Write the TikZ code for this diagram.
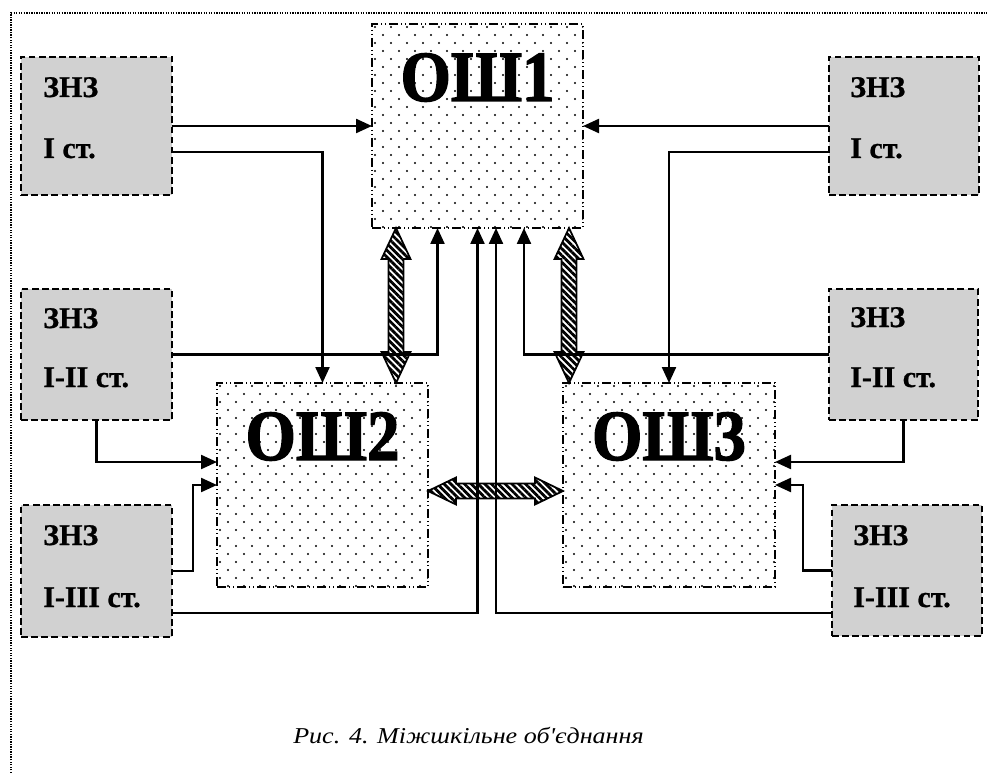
\documentclass[tikz,border=0pt]{standalone}
\usepackage{fontspec}
\setmainfont{Liberation Serif}
\newfontfamily\capfont{Liberation Serif}[FakeStretch=1.15]
\newfontfamily\oshfont{Liberation Serif Bold}[FakeStretch=0.9,FakeBold=1.8]
\newfontfamily\znzfont{Liberation Serif Bold}[FakeBold=0.8]
\usetikzlibrary{arrows.meta,calc,fit,patterns.meta}
\definecolor{znzgray}{RGB}{209,209,209}
\tikzset{
  znz/.style={draw, fill=znzgray, line width=1.3pt, dash pattern=on 5pt off 2.6pt, inner sep=0pt, outer sep=0pt},
  osh/.style={draw, line width=1.2pt, dash pattern=on 7pt off 2pt on 1pt off 2pt on 1pt off 2pt, inner sep=0pt, outer sep=0pt},
  znztext/.style={anchor=base west, inner sep=0pt, font=\znzfont\fontsize{22.5}{26}\selectfont},
  oshtext/.style={anchor=base, inner sep=0pt, font=\oshfont\fontsize{54}{60}\selectfont},
  conn/.style={line width=1.7pt, -{Triangle[length=12pt,width=10.5pt]}},
  fatarr/.style={fill=white, postaction={pattern={Lines[angle=-45,distance=3.6pt,line width=2.1pt]}}, postaction={draw,line width=1.3pt}},
  frame/.style={line width=1.4pt, dash pattern=on 1pt off 0.9pt},
}
\newcommand\fatV[2]{\path[fatarr] (#1) -- ($(#1)+(14.5,31)$) -- ($(#1)+(7.5,31)$) -- ($(#2)+(7.5,-31)$) -- ($(#2)+(14.5,-31)$) -- (#2) -- ($(#2)+(-14.5,-31)$) -- ($(#2)+(-7.5,-31)$) -- ($(#1)+(-7.5,31)$) -- ($(#1)+(-14.5,31)$) -- cycle;}
\newcommand\fatH[2]{\path[fatarr] (#1) -- ($(#1)+(28,-13.5)$) -- ($(#1)+(28,-7.5)$) -- ($(#2)+(-28,-7.5)$) -- ($(#2)+(-28,-13.5)$) -- (#2) -- ($(#2)+(-28,13.5)$) -- ($(#2)+(-28,7.5)$) -- ($(#1)+(28,7.5)$) -- ($(#1)+(28,13.5)$) -- cycle;}
\begin{document}
\begin{tikzpicture}[x=0.75pt,y=-0.75pt]
\useasboundingbox (0,0) rectangle (987,773);
% frame
\coordinate (fr1) at (11,773);
\coordinate (fr2) at (11,13);
\coordinate (fr3) at (987,13);
\draw[frame] (fr1) -- (fr2) -- (fr3);
% OSh boxes
\node[osh, fit={(372,24) (583,228)}] (osh1) {};
\node[osh, fit={(217,383) (428,587)}] (osh2) {};
\node[osh, fit={(563,383) (775,587)}] (osh3) {};
\foreach \b in {osh1,osh2,osh3}{
  \begin{scope}
    \clip (\b.north west) rectangle (\b.south east);
    \foreach \i in {0,...,26}{
      \foreach \j in {0,...,13}{
        \fill ($(\b.north west)+({3+16*\j+8*mod(\i,2)},{3+8*\i})$) circle (0.85pt);
      }
    }
  \end{scope}
}
\node[oshtext] (o1t) at ($(osh1.north)+(0,77)$) {ОШ1};
\node[oshtext] (o2t) at ($(osh2.north)+(0,77)$) {ОШ2};
\node[oshtext] (o3t) at ($(osh3.north)+(0,77)$) {ОШ3};
% ZNZ boxes
\node[znz, fit={(21,57) (172,195)}] (tl) {};
\node[znz, fit={(829,57) (979,195)}] (tr) {};
\node[znz, fit={(21,289) (172,420)}] (ml) {};
\node[znz, fit={(829,289) (978,420)}] (mr) {};
\node[znz, fit={(21,505) (172,637)}] (bl) {};
\node[znz, fit={(832,505) (982,636)}] (br) {};
\node[znztext] (tl1) at ($(tl.north west)+(22,40)$) {ЗНЗ};
\node[znztext] (tl2) at ($(tl.north west)+(22,101)$) {I ст.};
\node[znztext] (tr1) at ($(tr.north west)+(21,40)$) {ЗНЗ};
\node[znztext] (tr2) at ($(tr.north west)+(21,101)$) {I ст.};
\node[znztext] (ml1) at ($(ml.north west)+(22,39)$) {ЗНЗ};
\node[znztext] (ml2) at ($(ml.north west)+(22,98)$) {I-II ст.};
\node[znztext] (mr1) at ($(mr.north west)+(21,38)$) {ЗНЗ};
\node[znztext] (mr2) at ($(mr.north west)+(21,98)$) {I-II ст.};
\node[znztext] (bl1) at ($(bl.north west)+(22,40)$) {ЗНЗ};
\node[znztext] (bl2) at ($(bl.north west)+(22,102)$) {I-III ст.};
\node[znztext] (br1) at ($(br.north west)+(21,40)$) {ЗНЗ};
\node[znztext] (br2) at ($(br.north west)+(21,102)$) {I-III ст.};
% fat double arrows
\coordinate (va1) at ($(osh1.south)+(-81.5,0)$);
\coordinate (vb1) at (va1 |- osh2.north);
\coordinate (va2) at ($(osh1.south)+(91.5,0)$);
\coordinate (vb2) at (va2 |- osh3.north);
\coordinate (ha) at ($(osh2.east)+(0,6)$);
\coordinate (hb) at (ha -| osh3.west);
\fatV{va1}{vb1}
\fatV{va2}{vb2}
\fatH{ha}{hb}
% connectors
\draw[conn] (tl.east) -- (osh1.west);
\draw[conn] ($(tl.east)+(0,26)$) -| (osh2.north);
\draw[conn] (tr.west) -- (osh1.east);
\draw[conn] ($(tr.west)+(0,26)$) -| (osh3.north);
\draw[conn] (ml.east) -| ($(osh1.south)+(-40,0)$);
\draw[conn] (mr.west) -| ($(osh1.south)+(46.5,0)$);
\draw[conn] (ml.south) |- ($(osh2.west)+(0,-23)$);
\draw[conn] (mr.south) |- ($(osh3.east)+(0,-23)$);
\draw[conn] (bl.east) -- ++(21,0) |- (osh2.west);
\draw[conn] (br.west) -- ++(-29,0) |- (osh3.east);
\draw[conn] ($(bl.east)+(0,42)$) -| (osh1.south);
\draw[conn] ($(br.west)+(0,42.5)$) -| ($(osh1.south)+(18.5,0)$);
% caption
\node[anchor=base west, inner sep=0pt, font=\capfont\itshape\fontsize{17}{20}\selectfont] (cap) at (293,743) {Рис. 4. Міжшкільне об'єднання};
\end{tikzpicture}
\end{document}
